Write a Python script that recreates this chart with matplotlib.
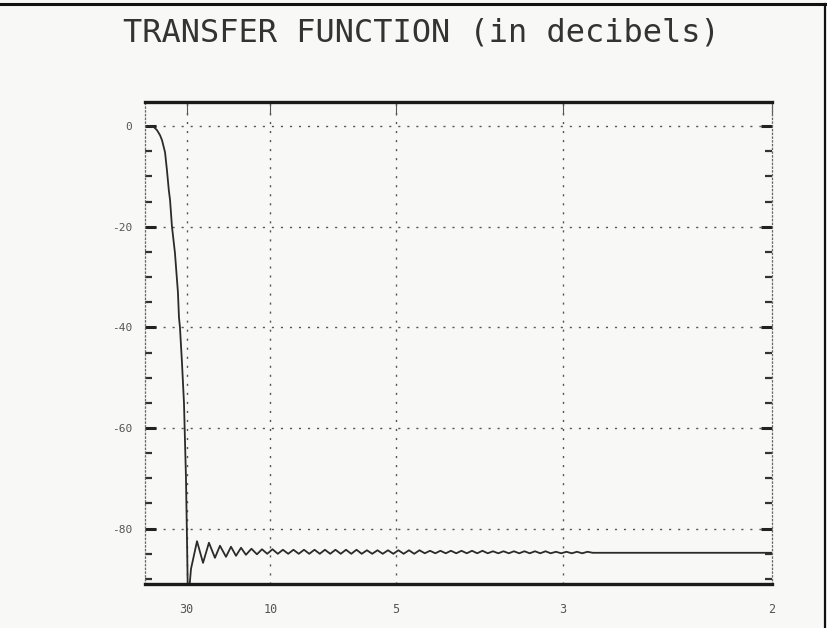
import matplotlib
matplotlib.use("Agg")
import matplotlib.pyplot as plt
from matplotlib.ticker import MultipleLocator, FixedLocator
from matplotlib.lines import Line2D

# Gain of the filter (dB) against frequency (cycles per sample)
drop_f = [0.0, 0.0040, 0.0072, 0.0096, 0.0120, 0.0136, 0.0160, 0.0175, 0.0190,
          0.0200, 0.0215, 0.0239, 0.0263, 0.0271, 0.0279, 0.0295, 0.0311,
          0.0327, 0.0335, 0.0343, 0.0367]
drop_db = [0.0, 0.0, -0.2, -0.8, -1.8, -2.8, -5.2, -8.7, -12.7,
           -14.7, -19.9, -25.2, -33.1, -38.0, -40.0, -47.0, -55.0,
           -70.0, -82.0, -95.0, -88.0]

# stopband ripple: alternating peaks and troughs
ripple_f = [0.0415, 0.0463, 0.0510, 0.0558, 0.0598, 0.0646, 0.0686, 0.0726,
            0.0766, 0.0805, 0.0849, 0.0893, 0.0933, 0.0975, 0.1017, 0.1059,
            0.1100, 0.1142, 0.1184, 0.1226, 0.1268, 0.1310, 0.1352, 0.1394,
            0.1435, 0.1477, 0.1519, 0.1561, 0.1603, 0.1645, 0.1687, 0.1728,
            0.1770, 0.1812, 0.1854, 0.1896, 0.1938, 0.1980, 0.2021, 0.2063,
            0.2105, 0.2147, 0.2189, 0.2231, 0.2273, 0.2315, 0.2356, 0.2398,
            0.2440, 0.2482, 0.2524, 0.2566, 0.2608, 0.2649, 0.2691, 0.2733,
            0.2775, 0.2817, 0.2859, 0.2901, 0.2942, 0.2984, 0.3026, 0.3068,
            0.3110, 0.3152, 0.3194, 0.3235, 0.3277, 0.3319, 0.3361, 0.3403,
            0.3445, 0.3487, 0.3528, 0.3570, 0.5000]
ripple_db = [-82.5, -86.8, -82.8, -85.8, -83.4, -85.6, -83.6, -85.4,
             -83.8, -85.2, -84.0, -85.1, -84.1, -85.0, -84.1, -85.0,
             -84.2, -85.0, -84.2, -85.0, -84.2, -85.0, -84.2, -85.0,
             -84.2, -85.0, -84.2, -85.0, -84.2, -85.0, -84.2, -85.0,
             -84.3, -85.0, -84.3, -85.0, -84.3, -85.0, -84.3, -85.0,
             -84.3, -85.0, -84.3, -84.9, -84.4, -84.9, -84.4, -84.9,
             -84.4, -84.9, -84.4, -84.9, -84.4, -84.9, -84.4, -84.9,
             -84.5, -84.9, -84.5, -84.9, -84.5, -84.9, -84.5, -84.9,
             -84.5, -84.9, -84.5, -84.9, -84.6, -84.9, -84.6, -84.9,
             -84.6, -84.9, -84.6, -84.8, -84.8]

# x axis is labelled by period (1/frequency)
periods = [30, 10, 5, 3, 2]
period_labels = ["30", "10", "5", "3", "2"]
db_ticks = [0, -20, -40, -60, -80]

mono = "DejaVu Sans Mono"
ink = "#333333"

fig = plt.figure(figsize=(8.27, 6.28), dpi=100, facecolor="#f8f8f6")
ax = fig.add_axes([0.1753, 0.0701, 0.7582, 0.7675])
ax.set_facecolor("#f8f8f6")

ax.plot(drop_f + ripple_f, drop_db + ripple_db, color="#2b2b2b", lw=1.3,
        solid_joinstyle="round")

ax.set_xlim(0, 0.5)
ax.set_ylim(-91, 4.8)

xticks = [1.0 / p for p in periods]
ax.xaxis.set_major_locator(FixedLocator(xticks))
ax.set_xticklabels(period_labels)
ax.yaxis.set_major_locator(FixedLocator(db_ticks))
ax.yaxis.set_minor_locator(MultipleLocator(5))
ax.set_yticklabels([str(t) for t in db_ticks])

# dotted grid
for t in db_ticks:
    ax.axhline(t, color="#555555", lw=1.0, ls=(0, (1.5, 5)), zorder=0)
for t in xticks[:-1]:
    ax.axvline(t, color="#555555", lw=1.0, ls=(0, (1.5, 5)), zorder=0)

ax.tick_params(axis="y", which="major", direction="in", left=True, right=True,
               length=8, width=2.2, color="#222222", pad=9,
               labelsize=8, labelcolor="#555555")
ax.tick_params(axis="y", which="minor", direction="in", left=True, right=True,
               length=5, width=1.6, color="#333333")
ax.tick_params(axis="x", which="major", direction="in", bottom=False, top=True,
               labelbottom=True, length=9, width=0.8, color="#555555", pad=14,
               labelsize=8.5, labelcolor="#555555")
for lab in ax.get_xticklabels() + ax.get_yticklabels():
    lab.set_family(mono)

for side in ["top", "bottom"]:
    ax.spines[side].set_linewidth(2.4)
    ax.spines[side].set_color("#1a1a1a")
for side in ["left", "right"]:
    ax.spines[side].set_linewidth(0.9)
    ax.spines[side].set_linestyle((0, (1, 2)))
    ax.spines[side].set_color("#666666")

fig.text(0.509, 0.947, "TRANSFER FUNCTION (in decibels)", family=mono,
         fontsize=23, color=ink, ha="center", va="center")

# frame of the printout
fig.add_artist(Line2D([0.0, 1.0], [0.993, 0.993], transform=fig.transFigure,
                      color="#111111", lw=2.2))
fig.add_artist(Line2D([0.997, 0.997], [0.0, 0.993], transform=fig.transFigure,
                      color="#111111", lw=1.6))

fig.savefig("out.png", dpi=100, facecolor=fig.get_facecolor())
